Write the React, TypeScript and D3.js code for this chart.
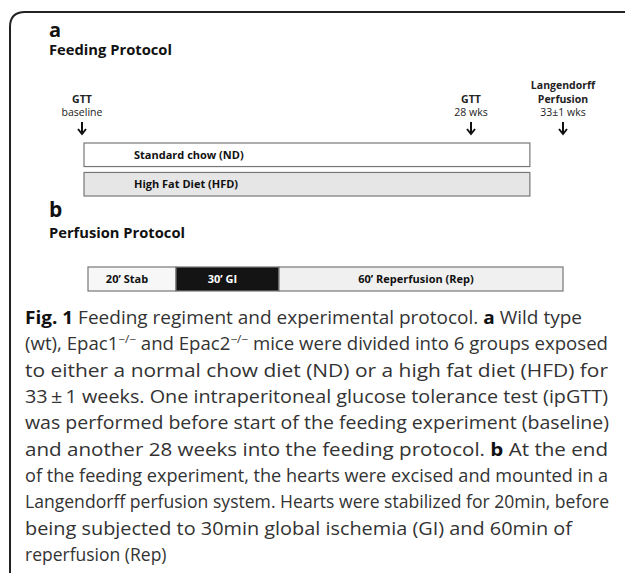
import React from 'react';
import * as d3 from 'd3';

// feeding protocol (weeks)
const eventWeeks = [0, 28, 33];
const eventLabels = [
  [{ t: 'GTT', bold: true }, { t: 'baseline', bold: false }],
  [{ t: 'GTT', bold: true }, { t: '28 wks', bold: false }],
  [{ t: 'Langendorff', bold: true }, { t: 'Perfusion', bold: true }, { t: '33\u00b11 wks', bold: false }],
];
const diets = ['Standard chow (ND)', 'High Fat Diet (HFD)'];
const dietFills = ['#ffffff', '#e6e6e6'];
const dietSpan = [0, 31.2];

// perfusion protocol (minutes)
const stageNames = ['20\u2019 Stab', '30\u2019 GI', '60\u2019 Reperfusion (Rep)'];
const stageMinutes = [20, 30, 60];
const stageFills = ['#f7f7f7', '#141414', '#f0f0f0'];
const stageText = ['#111', '#fff', '#111'];

type Seg = { t: string; b?: boolean; sup?: boolean };
const caption: Seg[][] = [
  [{ t: 'Fig. 1', b: true }, { t: ' Feeding regiment and experimental protocol. ' }, { t: 'a', b: true }, { t: ' Wild type' }],
  [{ t: '(wt), Epac1' }, { t: '\u2212/\u2212', sup: true }, { t: ' and Epac2' }, { t: '\u2212/\u2212', sup: true }, { t: ' mice were divided into 6 groups exposed' }],
  [{ t: 'to either a normal chow diet (ND) or a high fat diet (HFD) for' }],
  [{ t: '33\u2009\u00b1\u20091 weeks. One intraperitoneal glucose tolerance test (ipGTT)' }],
  [{ t: 'was performed before start of the feeding experiment (baseline)' }],
  [{ t: 'and another 28 weeks into the feeding protocol. ' }, { t: 'b', b: true }, { t: ' At the end' }],
  [{ t: 'of the feeding experiment, the hearts were excised and mounted in a' }],
  [{ t: 'Langendorff perfusion system. Hearts were stabilized for 20min, before' }],
  [{ t: 'being subjected to 30min global ischemia (GI) and 60min of' }],
  [{ t: 'reperfusion (Rep)' }],
];
// right edge of each caption line (null = natural width)
const captionEnds = [582, 608, 608, 608, 609, 608, 608, 609, 572, null];

const FONT = '"Open Sans", sans-serif';

const Arrow = ({ x, y1, y2 }: { x: number; y1: number; y2: number }) => (
  <g stroke="#111" strokeWidth={2} fill="none">
    <line x1={x} x2={x} y1={y1} y2={y2} />
    <polyline points={`${x - 4},${y2 - 5} ${x},${y2} ${x + 4},${y2 - 5}`} />
  </g>
);

export default function App() {
  const xw = d3.scaleLinear().domain([0, 28, 33]).range([82, 471, 563]);
  const cum = d3.cumsum(stageMinutes);
  const xm = d3.scaleLinear().domain([0, 20, 50, 110]).range([88, 176, 279, 563]);
  const dietY = d3.scaleBand().domain(diets).range([143, 196]).paddingInner(0.2);

  const capX = 25;
  const capY = d3.scaleLinear().domain([0, caption.length - 1]).range([324, 561]);

  return (
    <svg width={625} height={573} style={{ position: 'absolute', left: 0, top: 0, background: '#fff' }} fontFamily={FONT}>
      <path d="M10,573 L10,27 Q10,12 25,12 L625,12" fill="none" stroke="#222" strokeWidth={2} />

      {/* panel a */}
      <text x={49} y={37} fontSize={20} fontWeight="bold" fill="#111">a</text>
      <text x={49} y={55} fontSize={15} fontWeight="bold" fill="#111" textLength={123} lengthAdjust="spacingAndGlyphs">Feeding Protocol</text>

      {eventWeeks.map((w, i) => {
        const lines = eventLabels[i];
        const x = xw(w);
        return (
          <g key={i}>
            {lines.map((l, j) => (
              <text key={j} x={x} y={116 - (lines.length - 1 - j) * 13.5} textAnchor="middle" fontSize={10.5}
                fontWeight={l.bold ? 'bold' : 'normal'} fill="#222">{l.t}</text>
            ))}
            <Arrow x={x} y1={122} y2={134} />
          </g>
        );
      })}

      {diets.map((d, i) => (
        <g key={d}>
          <rect x={xw(dietSpan[0]) + 2} y={dietY(d)!} width={xw(dietSpan[1]) - xw(dietSpan[0]) - 2} height={dietY.bandwidth()}
            fill={dietFills[i]} stroke="#777" strokeWidth={1.2} />
          <text x={134} y={dietY(d)! + dietY.bandwidth() / 2 + 4} fontSize={11} fontWeight="bold" fill="#111">{d}</text>
        </g>
      ))}

      {/* panel b */}
      <text x={49} y={217} fontSize={21} fontWeight="bold" fill="#111">b</text>
      <text x={49} y={238} fontSize={15} fontWeight="bold" fill="#111" textLength={136} lengthAdjust="spacingAndGlyphs">Perfusion Protocol</text>

      {stageNames.map((s, i) => {
        const x0 = xm(cum[i] - stageMinutes[i]);
        const x1 = xm(cum[i]);
        return (
          <g key={s}>
            <rect x={x0} y={267} width={x1 - x0} height={24} fill={stageFills[i]} stroke="#777" strokeWidth={1.2} />
            <text x={(x0 + x1) / 2 - 5} y={283} textAnchor="middle" fontSize={11} fontWeight="bold" fill={stageText[i]}>{s}</text>
          </g>
        );
      })}

      {/* caption */}
      {caption.map((segs, i) => {
        const end = captionEnds[i];
        return (
          <text key={i} x={capX} y={capY(i)} fontSize={17.5} fill="#333"
            {...(end ? { textLength: end - capX, lengthAdjust: 'spacingAndGlyphs' } : {})}>
            {segs.map((s, j) => s.sup
              ? <tspan key={j} fontSize={11} dy={-7}>{s.t}</tspan>
              : <tspan key={j} fontWeight={s.b ? 'bold' : 'normal'} fill={s.b ? '#111' : '#333'}
                dy={j > 0 && segs[j - 1].sup ? 7 : 0}>{s.t}</tspan>)}
          </text>
        );
      })}
    </svg>
  );
}
